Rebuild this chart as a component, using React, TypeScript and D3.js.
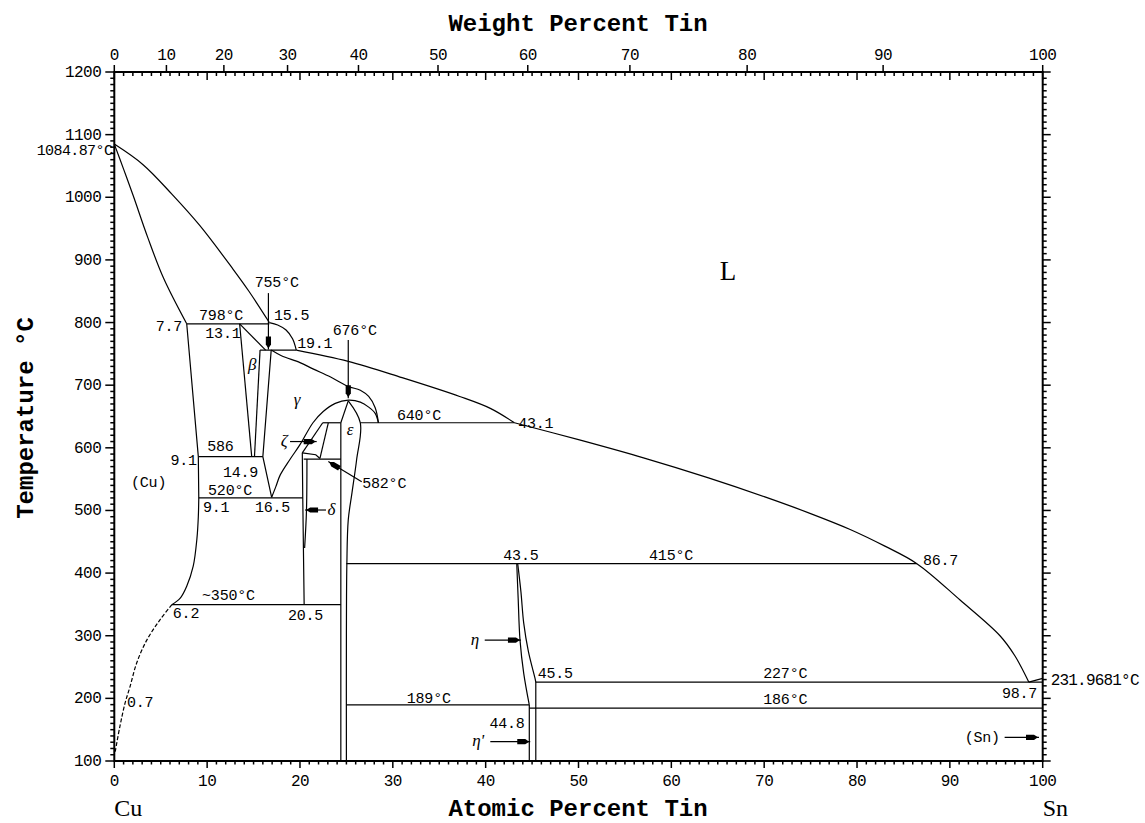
import React from 'react';
import * as d3 from 'd3';

type Pt = [number, number]; // [atomic % Sn, temperature °C]

// phase boundaries
const liquidusCu: Pt[] = [[0, 1084.87], [3.1, 1052], [6.2, 1005], [9.2, 955], [12.8, 885], [14.5, 850], [16.7, 800]];
const liquidusBump: Pt[] = [[16.7, 800], [17.6, 796], [18.5, 788], [19.2, 774], [19.6, 756]];
const liquidusMid: Pt[] = [[19.6, 756], [25.2, 738], [31, 712], [37.2, 682], [40.5, 663], [43.1, 640]];
const liquidusSn: Pt[] = [[43.1, 640], [50, 613], [57, 584], [64, 552], [70, 522], [75, 495], [79.2, 470], [83, 443], [86.45, 415], [91.1, 357], [95.4, 300], [97, 268], [98.5, 226]];
const liquidusEnd: Pt[] = [[98.5, 226], [100, 231.97]];
const solidusCu: Pt[] = [[0, 1084.87], [1, 1045], [2.05, 1002], [3.6, 936], [5.3, 871], [7.8, 798]];
const cuSolvus: Pt[] = [[7.8, 798], [9.05, 586], [9.1, 520]];
const cuSolvusLow: Pt[] = [[9.1, 520], [9.05, 490], [8.9, 455], [8.5, 411], [7.8, 379], [7.1, 360], [6.2, 349.5]];
const cuSolvusDashed: Pt[] = [[6.2, 349.5], [4.9, 325], [3.5, 293], [2.4, 256], [1.7, 219], [1.15, 192], [0.6, 155], [0.1, 115]];
const betaLeft: Pt[] = [[13.5, 798], [14.8, 586]];
const betaTop: Pt[] = [[13.5, 798], [16.3, 756]];
const betaRight: Pt[] = [[15.7, 756], [15.1, 586]];
const gammaLeft: Pt[] = [[16.9, 756], [16.0, 586], [16.95, 521]];
const gammaSolidus: Pt[] = [[16.9, 756], [18, 747], [20, 736], [21.4, 726], [23.3, 713], [25.2, 698], [26.5, 692], [27.4, 682], [28.1, 664], [28.45, 640]];
const gammaDome: Pt[] = [[16.95, 521], [17.4, 538], [17.85, 556], [18.9, 581], [20.0, 605], [21.4, 640], [22.5, 658], [23.8, 671], [25.2, 676], [26.5, 673], [27.4, 665], [28.1, 655], [28.45, 640]];
const epsPeak: Pt[] = [[25.2, 675], [24.4, 640]];
const epsLeft: Pt[] = [[24.4, 640], [24.4, 100]];
const epsRight: Pt[] = [[25.2, 675], [26.5, 640], [26.1, 581], [25.6, 528], [25.2, 485], [25.05, 415], [25.0, 300], [25.0, 100]];
const zetaLeft: Pt[] = [[20.25, 592], [22.45, 640]];
const zetaRight: Pt[] = [[22.15, 583], [23.05, 640]];
const zetaBottom: Pt[] = [[20.25, 592], [21.7, 589], [22.15, 583]];
const deltaLeft: Pt[] = [[20.25, 592], [20.3, 520], [20.45, 349.5]];
const deltaRight: Pt[] = [[20.75, 582], [20.7, 500], [20.5, 440]];
const etaLeft: Pt[] = [[43.35, 415], [43.5, 360], [43.7, 293], [44.1, 240], [44.7, 189.5]];
const etaRight: Pt[] = [[43.45, 415], [43.8, 370], [44.1, 320], [44.6, 275], [45.3, 233], [45.4, 226]];
const etaPrimeLeft: Pt[] = [[44.7, 189.5], [44.7, 100]];
const etaPrimeRight: Pt[] = [[45.4, 226], [45.4, 100]];

// invariant lines: [temperature, from at%, to at%]
const isotherms: [number, number, number][] = [
  [798, 7.8, 16.7], [756, 15.7, 19.6], [640, 22.45, 24.4], [640, 26.5, 43.1],
  [586, 9.1, 16.0], [582, 20.4, 24.4], [520, 9.1, 20.3], [349.5, 6.2, 24.4],
  [415, 25.0, 86.45], [226, 45.4, 100], [189.5, 25.0, 44.7], [184.5, 44.7, 100],
];

const curves: Pt[][] = [liquidusCu, liquidusBump, liquidusMid, liquidusSn, solidusCu, cuSolvusLow,
  gammaSolidus, gammaDome, epsRight, etaLeft, etaRight, deltaRight];
const straights: Pt[][] = [liquidusEnd, cuSolvus, betaLeft, betaTop, betaRight, gammaLeft, epsPeak, epsLeft,
  zetaLeft, zetaRight, zetaBottom, deltaLeft, etaPrimeLeft, etaPrimeRight];

// text labels: [text, at%, °C, anchor]
const numLabels: [string, number, number, string][] = [
  ['7.7', 7.3, 786, 'end'], ['798°C', 11.5, 804, 'middle'], ['15.5', 17.2, 804, 'start'],
  ['13.1', 9.8, 775, 'start'], ['19.1', 19.7, 759, 'start'], ['755°C', 17.5, 857, 'middle'],
  ['676°C', 25.9, 780, 'middle'], ['640°C', 30.45, 644, 'start'], ['43.1', 43.5, 632, 'start'],
  ['586', 10.0, 595, 'start'], ['9.1', 8.9, 572.6, 'end'], ['14.9', 11.7, 553, 'start'],
  ['(Cu)', 1.8, 537.4, 'start'], ['520°C', 10.1, 524.5, 'start'], ['9.1', 9.55, 497.5, 'start'],
  ['16.5', 15.15, 497.5, 'start'], ['582°C', 26.7, 536, 'start'], ['~350°C', 9.45, 357, 'start'],
  ['6.2', 6.3, 328.3, 'start'], ['20.5', 18.7, 325, 'start'], ['0.7', 1.37, 186, 'start'],
  ['43.5', 41.9, 421, 'start'], ['415°C', 57.6, 421, 'start'], ['86.7', 87.1, 413, 'start'],
  ['45.5', 45.6, 232.5, 'start'], ['227°C', 69.9, 233.3, 'start'], ['98.7', 99.4, 200.6, 'end'],
  ['189°C', 31.5, 192.6, 'start'], ['186°C', 69.9, 191, 'start'], ['44.8', 44.2, 152.7, 'end'],
  ['(Sn)', 91.6, 130.3, 'start'],
];
const phaseLabels: [string, number, number][] = [
  ['β', 14.85, 724], ['γ', 19.7, 668], ['ε', 25.4, 620.5], ['ζ', 18.3, 603],
  ['δ', 23.4, 492.7], ['η', 38.85, 285], ['η\'', 39.2, 124],
];
// arrows: tail [at, °C] -> tip [at, °C]
const arrows: [Pt, Pt][] = [
  [[16.6, 847], [16.6, 757]], [[25.2, 772], [25.2, 679]], [[18.93, 610], [21.8, 610]],
  [[26.65, 546], [23.05, 578]], [[22.8, 500.7], [20.55, 500.7]], [[39.9, 293], [43.8, 293]],
  [[40.5, 130.8], [44.8, 130.8]], [[95.9, 137.8], [99.6, 137.8]],
];

const atTicks = d3.range(0, 101, 1);
const tempTicks = d3.range(100, 1201, 10);
const wtTicks = d3.range(0, 101, 10);

const wtToAt = (w: number) => {
  const a = w / 118.71, b = (100 - w) / 63.546;
  return (100 * a) / (a + b);
};

const MONO = '"Liberation Mono", "DejaVu Sans Mono", monospace';
const SERIF = '"Liberation Serif", "DejaVu Serif", serif';

export default function App() {
  const x = d3.scaleLinear().domain([0, 100]).range([114.3, 1042.7]);
  const y = d3.scaleLinear().domain([100, 1200]).range([761, 72]);
  const smooth = d3.line<Pt>().x(d => x(d[0])).y(d => y(d[1])).curve(d3.curveCatmullRom.alpha(0.5));
  const straight = d3.line<Pt>().x(d => x(d[0])).y(d => y(d[1]));
  const x0 = x(0), x1 = x(100), yTop = y(1200), yBot = y(100);

  const arrow = (tail: Pt, tip: Pt, i: number) => {
    const tx = x(tail[0]), ty = y(tail[1]), px = x(tip[0]), py = y(tip[1]);
    const len = Math.hypot(px - tx, py - ty);
    const ux = (px - tx) / len, uy = (py - ty) / len;
    const nx = -uy, ny = ux;
    const pt = (d: number, w: number) => `${px - ux * d + nx * w},${py - uy * d + ny * w}`;
    return (
      <g key={'a' + i}>
        <line x1={tx} y1={ty} x2={px} y2={py} stroke="#000" strokeWidth={1.2} />
        <polygon points={[pt(1, 0), pt(5, 2.6), pt(13, 2.6), pt(13, -2.6), pt(5, -2.6)].join(' ')} fill="#000" />
      </g>
    );
  };

  return (
    <svg width={1145} height={823} style={{ position: 'absolute', left: 0, top: 0, background: '#fff' }}>
      <rect x={0} y={0} width={1145} height={823} fill="#fff" />
      {/* frame */}
      <rect x={x0} y={yTop} width={x1 - x0} height={yBot - yTop} fill="none" stroke="#000" strokeWidth={2} />

      {/* left / right temperature ticks */}
      {tempTicks.map(t => {
        const len = t % 100 === 0 ? 9 : 4;
        return (
          <g key={'t' + t}>
            <line x1={x0 - len} x2={x0} y1={y(t)} y2={y(t)} stroke="#000" strokeWidth={1.5} />
            <line x1={x1} x2={x1 + (t % 100 === 0 ? 8 : 4)} y1={y(t)} y2={y(t)} stroke="#000" strokeWidth={1.5} />
          </g>
        );
      })}
      {tempTicks.filter(t => t % 100 === 0).map(t => (
        <text key={'tl' + t} x={x0 - 13} y={y(t) + 5} textAnchor="end" fontFamily={MONO} fontSize={16} letterSpacing={-0.5}>{t}</text>
      ))}

      {/* bottom atomic ticks */}
      {atTicks.map(a => (
        <line key={'b' + a} x1={x(a)} x2={x(a)} y1={yBot} y2={yBot + (a % 10 === 0 ? 7 : 3.5)} stroke="#000" strokeWidth={1.5} />
      ))}
      {atTicks.filter(a => a % 10 === 0).map(a => (
        <text key={'bl' + a} x={x(a)} y={786} textAnchor="middle" fontFamily={MONO} fontSize={16} letterSpacing={-0.5}>{a}</text>
      ))}

      {/* top: atomic ticks inward, weight ticks outward */}
      {atTicks.map(a => (
        <line key={'ta' + a} x1={x(a)} x2={x(a)} y1={yTop} y2={yTop + (a % 10 === 0 ? 8 : 4)} stroke="#000" strokeWidth={1.5} />
      ))}
      {wtTicks.map(w => (
        <g key={'w' + w}>
          <line x1={x(wtToAt(w))} x2={x(wtToAt(w))} y1={yTop} y2={yTop - 7} stroke="#000" strokeWidth={1.5} />
          <text x={x(wtToAt(w))} y={60} textAnchor="middle" fontFamily={MONO} fontSize={16} letterSpacing={-0.5}>{w}</text>
        </g>
      ))}

      {/* axis titles */}
      <text x={578} y={31} textAnchor="middle" fontFamily={MONO} fontSize={24} fontWeight="bold">Weight Percent Tin</text>
      <text x={578} y={816} textAnchor="middle" fontFamily={MONO} fontSize={24} fontWeight="bold">Atomic Percent Tin</text>
      <text transform="translate(33,418) rotate(-90)" textAnchor="middle" fontFamily={MONO} fontSize={24} fontWeight="bold">Temperature °C</text>
      <text x={x0} y={816} fontFamily={SERIF} fontSize={24}>Cu</text>
      <text x={x1} y={816} fontFamily={SERIF} fontSize={24}>Sn</text>

      {/* phase boundaries */}
      <g fill="none" stroke="#000" strokeWidth={1.2}>
        {curves.map((c, i) => <path key={'c' + i} d={smooth(c) || ''} />)}
        {straights.map((c, i) => <path key={'s' + i} d={straight(c) || ''} />)}
        <path d={smooth(cuSolvusDashed) || ''} strokeDasharray="4,2" />
        {isotherms.map(([t, a, b], i) => (
          <line key={'h' + i} x1={x(a)} x2={x(b)} y1={y(t)} y2={y(t)} />
        ))}
      </g>

      {arrows.map(([tail, tip], i) => arrow(tail, tip, i))}

      {/* labels */}
      <text x={x0 - 2} y={y(1084.87) + 11} textAnchor="end" fontFamily={MONO} fontSize={15} letterSpacing={-0.6}>1084.87°C</text>
      <text x={x1 + 8} y={y(231.97) + 7} fontFamily={MONO} fontSize={16} letterSpacing={-0.8}>231.9681°C</text>
      {numLabels.map(([s, a, t, anchor], i) => (
        <text key={'n' + i} x={x(a)} y={y(t)} textAnchor={anchor} fontFamily={MONO} fontSize={15} letterSpacing={-0.2}>{s}</text>
      ))}
      {phaseLabels.map(([s, a, t], i) => (
        <text key={'p' + i} x={x(a)} y={y(t)} textAnchor="middle" fontFamily={SERIF} fontStyle="italic" fontSize={17}>{s}</text>
      ))}
      <text x={x(66.1)} y={y(868)} textAnchor="middle" fontFamily={SERIF} fontSize={27}>L</text>
    </svg>
  );
}
